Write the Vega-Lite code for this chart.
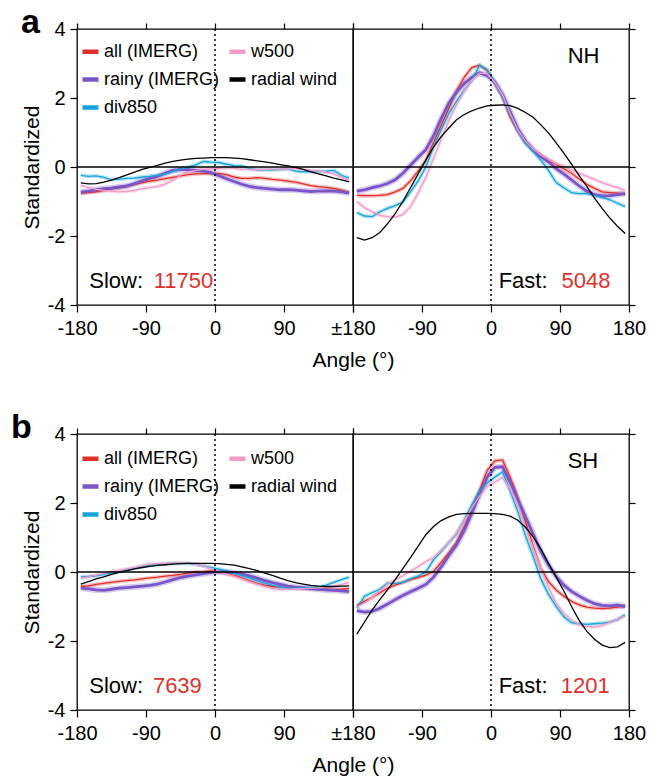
{
  "$schema": "https://vega.github.io/schema/vega-lite/v6.json",
  "padding": {"left": 10, "top": 5, "right": 5, "bottom": 5},
  "background": "white",
  "config": {
    "font": "Liberation Sans",
    "view": {"stroke": "black", "strokeWidth": 1.3},
    "axis": {
      "labelFont": "Liberation Sans", "labelFontSize": 20, "labelColor": "black",
      "titleFont": "Liberation Sans", "titleFontSize": 21, "titleFontWeight": "normal", "titleColor": "black",
      "tickColor": "black", "tickSize": 7, "tickWidth": 1.2, "domain": false, "grid": false,
      "labelFlush": false, "labelOverlap": false, "labelBound": false
    }
  },
  "datasets": {
    "A_slow": [
      {"angle": -175, "all": -0.76, "rainy": -0.73, "div850": -0.24, "w500": -0.53, "radial": -0.46},
      {"angle": -165, "all": -0.74, "rainy": -0.70, "div850": -0.27, "w500": -0.60, "radial": -0.49},
      {"angle": -155, "all": -0.72, "rainy": -0.66, "div850": -0.26, "w500": -0.65, "radial": -0.48},
      {"angle": -145, "all": -0.68, "rainy": -0.63, "div850": -0.30, "w500": -0.68, "radial": -0.44},
      {"angle": -135, "all": -0.63, "rainy": -0.61, "div850": -0.37, "w500": -0.70, "radial": -0.38},
      {"angle": -125, "all": -0.60, "rainy": -0.58, "div850": -0.35, "w500": -0.72, "radial": -0.31},
      {"angle": -115, "all": -0.56, "rainy": -0.55, "div850": -0.33, "w500": -0.71, "radial": -0.23},
      {"angle": -105, "all": -0.50, "rainy": -0.48, "div850": -0.32, "w500": -0.68, "radial": -0.15},
      {"angle": -95, "all": -0.45, "rainy": -0.40, "div850": -0.29, "w500": -0.63, "radial": -0.07},
      {"angle": -85, "all": -0.41, "rainy": -0.33, "div850": -0.27, "w500": -0.60, "radial": -0.01},
      {"angle": -75, "all": -0.38, "rainy": -0.27, "div850": -0.24, "w500": -0.56, "radial": 0.05},
      {"angle": -65, "all": -0.34, "rainy": -0.18, "div850": -0.20, "w500": -0.50, "radial": 0.11},
      {"angle": -55, "all": -0.30, "rainy": -0.10, "div850": -0.13, "w500": -0.38, "radial": 0.16},
      {"angle": -45, "all": -0.26, "rainy": -0.07, "div850": -0.07, "w500": -0.24, "radial": 0.20},
      {"angle": -35, "all": -0.22, "rainy": -0.08, "div850": 0.00, "w500": -0.14, "radial": 0.23},
      {"angle": -25, "all": -0.20, "rainy": -0.10, "div850": 0.06, "w500": -0.10, "radial": 0.25},
      {"angle": -15, "all": -0.19, "rainy": -0.12, "div850": 0.16, "w500": -0.07, "radial": 0.26},
      {"angle": -5, "all": -0.19, "rainy": -0.16, "div850": 0.14, "w500": -0.05, "radial": 0.27},
      {"angle": 5, "all": -0.19, "rainy": -0.25, "div850": 0.13, "w500": -0.05, "radial": 0.27},
      {"angle": 15, "all": -0.22, "rainy": -0.34, "div850": 0.08, "w500": -0.02, "radial": 0.27},
      {"angle": 25, "all": -0.29, "rainy": -0.42, "div850": 0.04, "w500": -0.04, "radial": 0.26},
      {"angle": 35, "all": -0.33, "rainy": -0.50, "div850": 0.03, "w500": -0.06, "radial": 0.24},
      {"angle": 45, "all": -0.33, "rainy": -0.56, "div850": -0.05, "w500": -0.07, "radial": 0.21},
      {"angle": 55, "all": -0.31, "rainy": -0.60, "div850": -0.08, "w500": -0.08, "radial": 0.18},
      {"angle": 65, "all": -0.33, "rainy": -0.62, "div850": -0.08, "w500": -0.07, "radial": 0.15},
      {"angle": 75, "all": -0.36, "rainy": -0.64, "div850": -0.08, "w500": -0.06, "radial": 0.11},
      {"angle": 85, "all": -0.38, "rainy": -0.66, "div850": -0.07, "w500": -0.06, "radial": 0.07},
      {"angle": 95, "all": -0.41, "rainy": -0.66, "div850": -0.05, "w500": -0.05, "radial": 0.03},
      {"angle": 105, "all": -0.44, "rainy": -0.67, "div850": -0.12, "w500": -0.05, "radial": -0.01},
      {"angle": 115, "all": -0.49, "rainy": -0.69, "div850": -0.14, "w500": -0.07, "radial": -0.07},
      {"angle": 125, "all": -0.54, "rainy": -0.71, "div850": -0.13, "w500": -0.10, "radial": -0.14},
      {"angle": 135, "all": -0.57, "rainy": -0.70, "div850": -0.13, "w500": -0.12, "radial": -0.20},
      {"angle": 145, "all": -0.59, "rainy": -0.69, "div850": -0.12, "w500": -0.15, "radial": -0.26},
      {"angle": 155, "all": -0.62, "rainy": -0.70, "div850": -0.10, "w500": -0.20, "radial": -0.32},
      {"angle": 165, "all": -0.67, "rainy": -0.72, "div850": -0.24, "w500": -0.30, "radial": -0.37},
      {"angle": 175, "all": -0.74, "rainy": -0.76, "div850": -0.32, "w500": -0.40, "radial": -0.43}
    ],
    "A_fast": [
      {"angle": -175, "all": -0.82, "rainy": -0.70, "div850": -1.32, "w500": -1.00, "radial": -2.05},
      {"angle": -165, "all": -0.83, "rainy": -0.66, "div850": -1.42, "w500": -1.18, "radial": -2.12},
      {"angle": -155, "all": -0.83, "rainy": -0.60, "div850": -1.44, "w500": -1.30, "radial": -2.05},
      {"angle": -145, "all": -0.82, "rainy": -0.55, "div850": -1.30, "w500": -1.40, "radial": -1.90},
      {"angle": -135, "all": -0.80, "rainy": -0.48, "div850": -1.20, "w500": -1.44, "radial": -1.65},
      {"angle": -125, "all": -0.72, "rainy": -0.37, "div850": -1.12, "w500": -1.45, "radial": -1.35},
      {"angle": -115, "all": -0.62, "rainy": -0.18, "div850": -1.02, "w500": -1.38, "radial": -1.00},
      {"angle": -105, "all": -0.40, "rainy": 0.05, "div850": -0.72, "w500": -1.15, "radial": -0.60},
      {"angle": -95, "all": -0.12, "rainy": 0.28, "div850": -0.40, "w500": -0.75, "radial": -0.20},
      {"angle": -85, "all": 0.20, "rainy": 0.50, "div850": 0.00, "w500": -0.30, "radial": 0.20},
      {"angle": -75, "all": 0.70, "rainy": 0.90, "div850": 0.58, "w500": 0.25, "radial": 0.58},
      {"angle": -65, "all": 1.20, "rainy": 1.40, "div850": 1.08, "w500": 0.80, "radial": 0.88},
      {"angle": -55, "all": 1.70, "rainy": 1.85, "div850": 1.55, "w500": 1.35, "radial": 1.13},
      {"angle": -45, "all": 2.20, "rainy": 2.17, "div850": 1.90, "w500": 1.80, "radial": 1.37},
      {"angle": -35, "all": 2.60, "rainy": 2.42, "div850": 2.22, "w500": 2.20, "radial": 1.52},
      {"angle": -25, "all": 2.88, "rainy": 2.60, "div850": 2.50, "w500": 2.52, "radial": 1.63},
      {"angle": -15, "all": 2.95, "rainy": 2.73, "div850": 2.95, "w500": 2.72, "radial": 1.71},
      {"angle": -5, "all": 2.80, "rainy": 2.65, "div850": 2.82, "w500": 2.70, "radial": 1.77},
      {"angle": 5, "all": 2.45, "rainy": 2.45, "div850": 2.45, "w500": 2.45, "radial": 1.79},
      {"angle": 15, "all": 2.05, "rainy": 2.10, "div850": 2.05, "w500": 2.10, "radial": 1.80},
      {"angle": 25, "all": 1.45, "rainy": 1.60, "div850": 1.50, "w500": 1.55, "radial": 1.78},
      {"angle": 35, "all": 1.05, "rainy": 1.10, "div850": 1.05, "w500": 1.08, "radial": 1.70},
      {"angle": 45, "all": 0.70, "rainy": 0.75, "div850": 0.70, "w500": 0.75, "radial": 1.58},
      {"angle": 55, "all": 0.48, "rainy": 0.50, "div850": 0.45, "w500": 0.52, "radial": 1.44},
      {"angle": 65, "all": 0.35, "rainy": 0.30, "div850": 0.20, "w500": 0.35, "radial": 1.22},
      {"angle": 75, "all": 0.20, "rainy": 0.15, "div850": -0.10, "w500": 0.22, "radial": 0.99},
      {"angle": 85, "all": 0.08, "rainy": -0.05, "div850": -0.45, "w500": 0.10, "radial": 0.70},
      {"angle": 95, "all": -0.05, "rainy": -0.20, "div850": -0.60, "w500": 0.03, "radial": 0.40},
      {"angle": 105, "all": -0.18, "rainy": -0.37, "div850": -0.74, "w500": -0.08, "radial": 0.08},
      {"angle": 115, "all": -0.35, "rainy": -0.55, "div850": -0.77, "w500": -0.18, "radial": -0.25},
      {"angle": 125, "all": -0.50, "rainy": -0.70, "div850": -0.77, "w500": -0.27, "radial": -0.56},
      {"angle": 135, "all": -0.62, "rainy": -0.80, "div850": -0.82, "w500": -0.36, "radial": -0.90},
      {"angle": 145, "all": -0.72, "rainy": -0.84, "div850": -0.88, "w500": -0.45, "radial": -1.20},
      {"angle": 155, "all": -0.74, "rainy": -0.83, "div850": -0.95, "w500": -0.53, "radial": -1.48},
      {"angle": 165, "all": -0.76, "rainy": -0.80, "div850": -1.05, "w500": -0.60, "radial": -1.72},
      {"angle": 175, "all": -0.78, "rainy": -0.77, "div850": -1.15, "w500": -0.68, "radial": -1.93}
    ],
    "B_slow": [
      {"angle": -175, "all": -0.42, "rainy": -0.47, "div850": -0.14, "w500": -0.18, "radial": -0.35},
      {"angle": -165, "all": -0.40, "rainy": -0.49, "div850": -0.13, "w500": -0.14, "radial": -0.28},
      {"angle": -155, "all": -0.36, "rainy": -0.52, "div850": -0.11, "w500": -0.09, "radial": -0.20},
      {"angle": -145, "all": -0.33, "rainy": -0.53, "div850": -0.07, "w500": -0.04, "radial": -0.14},
      {"angle": -135, "all": -0.30, "rainy": -0.50, "div850": -0.03, "w500": 0.01, "radial": -0.07},
      {"angle": -125, "all": -0.27, "rainy": -0.47, "div850": 0.01, "w500": 0.05, "radial": -0.01},
      {"angle": -115, "all": -0.25, "rainy": -0.45, "div850": 0.06, "w500": 0.09, "radial": 0.04},
      {"angle": -105, "all": -0.23, "rainy": -0.43, "div850": 0.11, "w500": 0.13, "radial": 0.09},
      {"angle": -95, "all": -0.20, "rainy": -0.41, "div850": 0.16, "w500": 0.18, "radial": 0.13},
      {"angle": -85, "all": -0.17, "rainy": -0.39, "div850": 0.20, "w500": 0.23, "radial": 0.16},
      {"angle": -75, "all": -0.15, "rainy": -0.35, "div850": 0.22, "w500": 0.24, "radial": 0.19},
      {"angle": -65, "all": -0.12, "rainy": -0.29, "div850": 0.24, "w500": 0.25, "radial": 0.21},
      {"angle": -55, "all": -0.10, "rainy": -0.22, "div850": 0.25, "w500": 0.26, "radial": 0.23},
      {"angle": -45, "all": -0.07, "rainy": -0.16, "div850": 0.25, "w500": 0.26, "radial": 0.24},
      {"angle": -35, "all": -0.03, "rainy": -0.12, "div850": 0.25, "w500": 0.25, "radial": 0.25},
      {"angle": -25, "all": 0.00, "rainy": -0.08, "div850": 0.22, "w500": 0.23, "radial": 0.25},
      {"angle": -15, "all": 0.01, "rainy": -0.05, "div850": 0.18, "w500": 0.18, "radial": 0.25},
      {"angle": -5, "all": 0.03, "rainy": -0.02, "div850": 0.13, "w500": 0.10, "radial": 0.25},
      {"angle": 5, "all": 0.02, "rainy": 0.01, "div850": 0.08, "w500": 0.02, "radial": 0.24},
      {"angle": 15, "all": -0.05, "rainy": 0.00, "div850": 0.03, "w500": -0.06, "radial": 0.22},
      {"angle": 25, "all": -0.10, "rainy": -0.02, "div850": -0.04, "w500": -0.12, "radial": 0.20},
      {"angle": 35, "all": -0.17, "rainy": -0.06, "div850": -0.10, "w500": -0.20, "radial": 0.15},
      {"angle": 45, "all": -0.26, "rainy": -0.11, "div850": -0.17, "w500": -0.28, "radial": 0.10},
      {"angle": 55, "all": -0.33, "rainy": -0.18, "div850": -0.25, "w500": -0.35, "radial": 0.04},
      {"angle": 65, "all": -0.38, "rainy": -0.25, "div850": -0.32, "w500": -0.42, "radial": -0.03},
      {"angle": 75, "all": -0.42, "rainy": -0.31, "div850": -0.39, "w500": -0.48, "radial": -0.10},
      {"angle": 85, "all": -0.44, "rainy": -0.36, "div850": -0.44, "w500": -0.51, "radial": -0.18},
      {"angle": 95, "all": -0.45, "rainy": -0.41, "div850": -0.46, "w500": -0.50, "radial": -0.25},
      {"angle": 105, "all": -0.46, "rainy": -0.44, "div850": -0.47, "w500": -0.49, "radial": -0.31},
      {"angle": 115, "all": -0.47, "rainy": -0.46, "div850": -0.46, "w500": -0.48, "radial": -0.35},
      {"angle": 125, "all": -0.48, "rainy": -0.48, "div850": -0.45, "w500": -0.47, "radial": -0.39},
      {"angle": 135, "all": -0.49, "rainy": -0.50, "div850": -0.44, "w500": -0.46, "radial": -0.41},
      {"angle": 145, "all": -0.50, "rainy": -0.52, "div850": -0.38, "w500": -0.44, "radial": -0.42},
      {"angle": 155, "all": -0.51, "rainy": -0.53, "div850": -0.30, "w500": -0.41, "radial": -0.42},
      {"angle": 165, "all": -0.50, "rainy": -0.55, "div850": -0.22, "w500": -0.36, "radial": -0.41},
      {"angle": 175, "all": -0.48, "rainy": -0.57, "div850": -0.15, "w500": -0.30, "radial": -0.40}
    ],
    "B_fast": [
      {"angle": -175, "all": -0.97, "rainy": -1.12, "div850": -1.05, "w500": -1.02, "radial": -1.80},
      {"angle": -165, "all": -0.85, "rainy": -1.16, "div850": -0.70, "w500": -0.90, "radial": -1.45},
      {"angle": -155, "all": -0.74, "rainy": -1.14, "div850": -0.60, "w500": -0.74, "radial": -1.10},
      {"angle": -145, "all": -0.60, "rainy": -1.05, "div850": -0.50, "w500": -0.55, "radial": -0.80},
      {"angle": -135, "all": -0.47, "rainy": -0.93, "div850": -0.32, "w500": -0.35, "radial": -0.52},
      {"angle": -125, "all": -0.38, "rainy": -0.80, "div850": -0.33, "w500": -0.22, "radial": -0.22},
      {"angle": -115, "all": -0.30, "rainy": -0.68, "div850": -0.30, "w500": -0.11, "radial": 0.10},
      {"angle": -105, "all": -0.22, "rainy": -0.57, "div850": -0.20, "w500": 0.02, "radial": 0.42},
      {"angle": -95, "all": -0.16, "rainy": -0.47, "div850": -0.12, "w500": 0.16, "radial": 0.75},
      {"angle": -85, "all": -0.09, "rainy": -0.36, "div850": 0.00, "w500": 0.30, "radial": 1.08},
      {"angle": -75, "all": 0.02, "rainy": -0.15, "div850": 0.35, "w500": 0.42, "radial": 1.32},
      {"angle": -65, "all": 0.28, "rainy": 0.15, "div850": 0.60, "w500": 0.62, "radial": 1.49},
      {"angle": -55, "all": 0.55, "rainy": 0.48, "div850": 0.85, "w500": 0.85, "radial": 1.60},
      {"angle": -45, "all": 0.86, "rainy": 0.78, "div850": 1.10, "w500": 1.12, "radial": 1.67},
      {"angle": -35, "all": 1.30, "rainy": 1.20, "div850": 1.50, "w500": 1.48, "radial": 1.69},
      {"angle": -25, "all": 1.82, "rainy": 1.70, "div850": 1.95, "w500": 1.85, "radial": 1.70},
      {"angle": -15, "all": 2.35, "rainy": 2.25, "div850": 2.35, "w500": 2.20, "radial": 1.70},
      {"angle": -5, "all": 2.95, "rainy": 2.75, "div850": 2.58, "w500": 2.48, "radial": 1.70},
      {"angle": 5, "all": 3.22, "rainy": 3.03, "div850": 2.75, "w500": 2.60, "radial": 1.69},
      {"angle": 15, "all": 3.25, "rainy": 3.05, "div850": 2.90, "w500": 2.74, "radial": 1.67},
      {"angle": 25, "all": 2.75, "rainy": 2.60, "div850": 2.35, "w500": 2.40, "radial": 1.62},
      {"angle": 35, "all": 2.15, "rainy": 2.10, "div850": 1.75, "w500": 1.90, "radial": 1.50},
      {"angle": 45, "all": 1.45, "rainy": 1.60, "div850": 1.05, "w500": 1.30, "radial": 1.30},
      {"angle": 55, "all": 0.75, "rainy": 1.10, "div850": 0.45, "w500": 0.70, "radial": 1.02},
      {"angle": 65, "all": 0.10, "rainy": 0.60, "div850": -0.20, "w500": 0.10, "radial": 0.67},
      {"angle": 75, "all": -0.28, "rainy": 0.20, "div850": -0.65, "w500": -0.45, "radial": 0.25},
      {"angle": 85, "all": -0.52, "rainy": -0.13, "div850": -1.00, "w500": -0.90, "radial": -0.15},
      {"angle": 95, "all": -0.70, "rainy": -0.38, "div850": -1.30, "w500": -1.20, "radial": -0.55},
      {"angle": 105, "all": -0.85, "rainy": -0.56, "div850": -1.47, "w500": -1.40, "radial": -1.00},
      {"angle": 115, "all": -0.95, "rainy": -0.70, "div850": -1.50, "w500": -1.52, "radial": -1.40},
      {"angle": 125, "all": -1.02, "rainy": -0.82, "div850": -1.52, "w500": -1.58, "radial": -1.72},
      {"angle": 135, "all": -1.05, "rainy": -0.92, "div850": -1.50, "w500": -1.60, "radial": -1.95},
      {"angle": 145, "all": -1.06, "rainy": -0.97, "div850": -1.48, "w500": -1.55, "radial": -2.12},
      {"angle": 155, "all": -1.05, "rainy": -0.98, "div850": -1.45, "w500": -1.46, "radial": -2.19},
      {"angle": 165, "all": -1.02, "rainy": -0.96, "div850": -1.38, "w500": -1.37, "radial": -2.17},
      {"angle": 175, "all": -0.98, "rainy": -1.00, "div850": -1.24, "w500": -1.27, "radial": -2.04}
    ]
  },
  "columns": 2,
  "spacing": {"row": 129, "column": 0},
  "bounds": "flush",
  "resolve": {"legend": {"color": "independent"}, "scale": {"color": "independent"}},
  "concat": [
    {
      "width": 276, "height": 276,
      "resolve": {"axis": {"x": "independent", "y": "independent"}},
      "layer": [
        {
          "data": {"name": "A_slow"},
          "transform": [{"fold": ["all", "rainy", "div850", "w500", "radial"], "as": ["series", "value"]}, {"filter": "datum.series != 'radial'"}],
          "mark": {"type": "line", "opacity": 0.3},
          "encoding": {
            "x": {"field": "angle", "type": "quantitative", "scale": {"domain": [-180, 180], "nice": false, "zero": false},
                  "axis": {"orient": "bottom", "values": [-180, -90, 0, 90, 180], "labelExpr": "datum.value == 180 ? '±180' : '' + datum.value", "labelPadding": 6, "title": "Angle (°)", "titleX": 276, "titlePadding": 11}},
            "y": {"field": "value", "type": "quantitative", "scale": {"domain": [-4, 4], "nice": false, "zero": false},
                  "axis": {"orient": "left", "values": [-4, -2, 0, 2, 4], "labelExpr": "'' + datum.value", "labelPadding": 5, "title": "Standardized", "titlePadding": 5}},
            "color": {"field": "series", "type": "nominal",
                      "scale": {"domain": ["all", "rainy", "div850", "w500", "radial"], "range": ["#e0302c", "#7a55c8", "#14a5dc", "#f29bc8", "#000000"]},
                      "legend": {"orient": "none", "legendX": 3, "legendY": 12, "title": null, "columns": 2, "symbolType": "stroke", "symbolStrokeWidth": 4.5, "symbolSize": 256, "symbolOpacity": 1, "labelFontSize": 18, "labelFont": "Liberation Sans", "labelColor": "black", "rowPadding": 8, "columnPadding": 0, "labelOffset": 3, "padding": 0,
                                 "labelExpr": "datum.label == 'all' ? 'all (IMERG)' : datum.label == 'rainy' ? 'rainy (IMERG)' : datum.label == 'radial' ? 'radial wind' : datum.label"}},
            "strokeWidth": {"condition": {"test": "datum.series == 'rainy'", "value": 6}, "value": 4}
          }
        },
        {
          "data": {"name": "A_slow"},
          "transform": [{"fold": ["all", "rainy", "div850", "w500", "radial"], "as": ["series", "value"]}],
          "mark": {"type": "line"},
          "encoding": {
            "x": {"field": "angle", "type": "quantitative", "scale": {"domain": [-180, 180], "nice": false, "zero": false},
                  "axis": {"orient": "top", "values": [-180, -90, 0, 90, 180], "labels": false, "tickSize": 6, "title": null}},
            "y": {"field": "value", "type": "quantitative", "scale": {"domain": [-4, 4], "nice": false, "zero": false}, "axis": null},
            "color": {"field": "series", "type": "nominal",
                      "scale": {"domain": ["all", "rainy", "div850", "w500", "radial"], "range": ["#e0302c", "#7a55c8", "#14a5dc", "#f29bc8", "#000000"]},
                      "legend": {"orient": "none", "legendX": 3, "legendY": 12, "title": null, "columns": 2, "symbolType": "stroke", "symbolStrokeWidth": 4.5, "symbolSize": 256, "symbolOpacity": 1, "labelFontSize": 18, "labelFont": "Liberation Sans", "labelColor": "black", "rowPadding": 8, "columnPadding": 0, "labelOffset": 3, "padding": 0,
                                 "labelExpr": "datum.label == 'all' ? 'all (IMERG)' : datum.label == 'rainy' ? 'rainy (IMERG)' : datum.label == 'radial' ? 'radial wind' : datum.label"}},
            "strokeWidth": {"condition": {"test": "datum.series == 'rainy'", "value": 2.8}, "value": 1.3}
          }
        },
        {"data": {"values": [{}]}, "mark": {"type": "rule", "color": "black", "strokeWidth": 1.3}, "encoding": {"y": {"datum": 0, "type": "quantitative", "axis": null}}},
        {"data": {"values": [{}]}, "mark": {"type": "rule", "color": "black", "strokeWidth": 1.5, "strokeDash": [2, 3]}, "encoding": {"x": {"datum": 0, "type": "quantitative", "axis": null}}},
        {"data": {"values": [{}]}, "mark": {"type": "text", "align": "left", "baseline": "alphabetic", "fontSize": 22, "color": "black", "text": "Slow:"},
         "encoding": {"x": {"datum": -164, "type": "quantitative", "axis": null}, "y": {"datum": -3.5, "type": "quantitative", "axis": null}}},
        {"data": {"values": [{}]}, "mark": {"type": "text", "align": "left", "baseline": "alphabetic", "fontSize": 22, "color": "#e0302c", "text": "11750"},
         "encoding": {"x": {"datum": -80, "type": "quantitative", "axis": null}, "y": {"datum": -3.5, "type": "quantitative", "axis": null}}},
        {"data": {"values": [{}]}, "mark": {"type": "text", "align": "left", "baseline": "alphabetic", "fontSize": 34, "fontWeight": "bold", "color": "black", "text": "a"},
         "encoding": {"x": {"datum": -253, "type": "quantitative", "axis": null}, "y": {"datum": 3.88, "type": "quantitative", "axis": null}}}
      ]
    },
    {
      "width": 276, "height": 276,
      "resolve": {"axis": {"x": "independent", "y": "independent"}},
      "layer": [
        {
          "data": {"name": "A_fast"},
          "transform": [{"fold": ["all", "rainy", "div850", "w500", "radial"], "as": ["series", "value"]}, {"filter": "datum.series != 'radial'"}],
          "mark": {"type": "line", "opacity": 0.3},
          "encoding": {
            "x": {"field": "angle", "type": "quantitative", "scale": {"domain": [-180, 180], "nice": false, "zero": false},
                  "axis": {"orient": "bottom", "values": [-180, -90, 0, 90, 180], "labelExpr": "datum.value == -180 ? '' : '' + datum.value", "labelPadding": 6, "title": null}},
            "y": {"field": "value", "type": "quantitative", "scale": {"domain": [-4, 4], "nice": false, "zero": false},
                  "axis": {"orient": "right", "values": [-4, -2, 0, 2, 4], "labels": false, "tickSize": 6, "title": null}},
            "color": {"field": "series", "type": "nominal",
                      "scale": {"domain": ["all", "rainy", "div850", "w500", "radial"], "range": ["#e0302c", "#7a55c8", "#14a5dc", "#f29bc8", "#000000"]}, "legend": null},
            "strokeWidth": {"condition": {"test": "datum.series == 'rainy'", "value": 6}, "value": 4}
          }
        },
        {
          "data": {"name": "A_fast"},
          "transform": [{"fold": ["all", "rainy", "div850", "w500", "radial"], "as": ["series", "value"]}],
          "mark": {"type": "line"},
          "encoding": {
            "x": {"field": "angle", "type": "quantitative", "scale": {"domain": [-180, 180], "nice": false, "zero": false},
                  "axis": {"orient": "top", "values": [-180, -90, 0, 90, 180], "labels": false, "tickSize": 6, "title": null}},
            "y": {"field": "value", "type": "quantitative", "scale": {"domain": [-4, 4], "nice": false, "zero": false}, "axis": null},
            "color": {"field": "series", "type": "nominal",
                      "scale": {"domain": ["all", "rainy", "div850", "w500", "radial"], "range": ["#e0302c", "#7a55c8", "#14a5dc", "#f29bc8", "#000000"]}, "legend": null},
            "strokeWidth": {"condition": {"test": "datum.series == 'rainy'", "value": 2.8}, "value": 1.3}
          }
        },
        {"data": {"values": [{}]}, "mark": {"type": "rule", "color": "black", "strokeWidth": 1.3}, "encoding": {"y": {"datum": 0, "type": "quantitative", "axis": null}}},
        {"data": {"values": [{}]}, "mark": {"type": "rule", "color": "black", "strokeWidth": 1.5, "strokeDash": [2, 3]}, "encoding": {"x": {"datum": 0, "type": "quantitative", "axis": null}}},
        {"data": {"values": [{}]}, "mark": {"type": "text", "align": "left", "baseline": "alphabetic", "fontSize": 22, "color": "black", "text": "Fast:"},
         "encoding": {"x": {"datum": 10, "type": "quantitative", "axis": null}, "y": {"datum": -3.5, "type": "quantitative", "axis": null}}},
        {"data": {"values": [{}]}, "mark": {"type": "text", "align": "left", "baseline": "alphabetic", "fontSize": 22, "color": "#e0302c", "text": "5048"},
         "encoding": {"x": {"datum": 92, "type": "quantitative", "axis": null}, "y": {"datum": -3.5, "type": "quantitative", "axis": null}}},
        {"data": {"values": [{}]}, "mark": {"type": "text", "align": "left", "baseline": "alphabetic", "fontSize": 22, "color": "black", "text": "NH"},
         "encoding": {"x": {"datum": 100, "type": "quantitative", "axis": null}, "y": {"datum": 3.02, "type": "quantitative", "axis": null}}}
      ]
    },
    {
      "width": 276, "height": 276,
      "resolve": {"axis": {"x": "independent", "y": "independent"}},
      "layer": [
        {
          "data": {"name": "B_slow"},
          "transform": [{"fold": ["all", "rainy", "div850", "w500", "radial"], "as": ["series", "value"]}, {"filter": "datum.series != 'radial'"}],
          "mark": {"type": "line", "opacity": 0.3},
          "encoding": {
            "x": {"field": "angle", "type": "quantitative", "scale": {"domain": [-180, 180], "nice": false, "zero": false},
                  "axis": {"orient": "bottom", "values": [-180, -90, 0, 90, 180], "labelExpr": "datum.value == 180 ? '±180' : '' + datum.value", "labelPadding": 6, "title": "Angle (°)", "titleX": 276, "titlePadding": 11}},
            "y": {"field": "value", "type": "quantitative", "scale": {"domain": [-4, 4], "nice": false, "zero": false},
                  "axis": {"orient": "left", "values": [-4, -2, 0, 2, 4], "labelExpr": "'' + datum.value", "labelPadding": 5, "title": "Standardized", "titlePadding": 5}},
            "color": {"field": "series", "type": "nominal",
                      "scale": {"domain": ["all", "rainy", "div850", "w500", "radial"], "range": ["#e0302c", "#7a55c8", "#14a5dc", "#f29bc8", "#000000"]},
                      "legend": {"orient": "none", "legendX": 3, "legendY": 14, "title": null, "columns": 2, "symbolType": "stroke", "symbolStrokeWidth": 4.5, "symbolSize": 256, "symbolOpacity": 1, "labelFontSize": 18, "labelFont": "Liberation Sans", "labelColor": "black", "rowPadding": 8, "columnPadding": 0, "labelOffset": 3, "padding": 0,
                                 "labelExpr": "datum.label == 'all' ? 'all (IMERG)' : datum.label == 'rainy' ? 'rainy (IMERG)' : datum.label == 'radial' ? 'radial wind' : datum.label"}},
            "strokeWidth": {"condition": {"test": "datum.series == 'rainy'", "value": 6}, "value": 4}
          }
        },
        {
          "data": {"name": "B_slow"},
          "transform": [{"fold": ["all", "rainy", "div850", "w500", "radial"], "as": ["series", "value"]}],
          "mark": {"type": "line"},
          "encoding": {
            "x": {"field": "angle", "type": "quantitative", "scale": {"domain": [-180, 180], "nice": false, "zero": false},
                  "axis": {"orient": "top", "values": [-180, -90, 0, 90, 180], "labels": false, "tickSize": 6, "title": null}},
            "y": {"field": "value", "type": "quantitative", "scale": {"domain": [-4, 4], "nice": false, "zero": false}, "axis": null},
            "color": {"field": "series", "type": "nominal",
                      "scale": {"domain": ["all", "rainy", "div850", "w500", "radial"], "range": ["#e0302c", "#7a55c8", "#14a5dc", "#f29bc8", "#000000"]},
                      "legend": {"orient": "none", "legendX": 3, "legendY": 14, "title": null, "columns": 2, "symbolType": "stroke", "symbolStrokeWidth": 4.5, "symbolSize": 256, "symbolOpacity": 1, "labelFontSize": 18, "labelFont": "Liberation Sans", "labelColor": "black", "rowPadding": 8, "columnPadding": 0, "labelOffset": 3, "padding": 0,
                                 "labelExpr": "datum.label == 'all' ? 'all (IMERG)' : datum.label == 'rainy' ? 'rainy (IMERG)' : datum.label == 'radial' ? 'radial wind' : datum.label"}},
            "strokeWidth": {"condition": {"test": "datum.series == 'rainy'", "value": 2.8}, "value": 1.3}
          }
        },
        {"data": {"values": [{}]}, "mark": {"type": "rule", "color": "black", "strokeWidth": 1.3}, "encoding": {"y": {"datum": 0, "type": "quantitative", "axis": null}}},
        {"data": {"values": [{}]}, "mark": {"type": "rule", "color": "black", "strokeWidth": 1.5, "strokeDash": [2, 3]}, "encoding": {"x": {"datum": 0, "type": "quantitative", "axis": null}}},
        {"data": {"values": [{}]}, "mark": {"type": "text", "align": "left", "baseline": "alphabetic", "fontSize": 22, "color": "black", "text": "Slow:"},
         "encoding": {"x": {"datum": -164, "type": "quantitative", "axis": null}, "y": {"datum": -3.5, "type": "quantitative", "axis": null}}},
        {"data": {"values": [{}]}, "mark": {"type": "text", "align": "left", "baseline": "alphabetic", "fontSize": 22, "color": "#e0302c", "text": "7639"},
         "encoding": {"x": {"datum": -81, "type": "quantitative", "axis": null}, "y": {"datum": -3.5, "type": "quantitative", "axis": null}}},
        {"data": {"values": [{}]}, "mark": {"type": "text", "align": "left", "baseline": "alphabetic", "fontSize": 34, "fontWeight": "bold", "color": "black", "text": "b"},
         "encoding": {"x": {"datum": -266, "type": "quantitative", "axis": null}, "y": {"datum": 3.88, "type": "quantitative", "axis": null}}}
      ]
    },
    {
      "width": 276, "height": 276,
      "resolve": {"axis": {"x": "independent", "y": "independent"}},
      "layer": [
        {
          "data": {"name": "B_fast"},
          "transform": [{"fold": ["all", "rainy", "div850", "w500", "radial"], "as": ["series", "value"]}, {"filter": "datum.series != 'radial'"}],
          "mark": {"type": "line", "opacity": 0.3},
          "encoding": {
            "x": {"field": "angle", "type": "quantitative", "scale": {"domain": [-180, 180], "nice": false, "zero": false},
                  "axis": {"orient": "bottom", "values": [-180, -90, 0, 90, 180], "labelExpr": "datum.value == -180 ? '' : '' + datum.value", "labelPadding": 6, "title": null}},
            "y": {"field": "value", "type": "quantitative", "scale": {"domain": [-4, 4], "nice": false, "zero": false},
                  "axis": {"orient": "right", "values": [-4, -2, 0, 2, 4], "labels": false, "tickSize": 6, "title": null}},
            "color": {"field": "series", "type": "nominal",
                      "scale": {"domain": ["all", "rainy", "div850", "w500", "radial"], "range": ["#e0302c", "#7a55c8", "#14a5dc", "#f29bc8", "#000000"]}, "legend": null},
            "strokeWidth": {"condition": {"test": "datum.series == 'rainy'", "value": 6}, "value": 4}
          }
        },
        {
          "data": {"name": "B_fast"},
          "transform": [{"fold": ["all", "rainy", "div850", "w500", "radial"], "as": ["series", "value"]}],
          "mark": {"type": "line"},
          "encoding": {
            "x": {"field": "angle", "type": "quantitative", "scale": {"domain": [-180, 180], "nice": false, "zero": false},
                  "axis": {"orient": "top", "values": [-180, -90, 0, 90, 180], "labels": false, "tickSize": 6, "title": null}},
            "y": {"field": "value", "type": "quantitative", "scale": {"domain": [-4, 4], "nice": false, "zero": false}, "axis": null},
            "color": {"field": "series", "type": "nominal",
                      "scale": {"domain": ["all", "rainy", "div850", "w500", "radial"], "range": ["#e0302c", "#7a55c8", "#14a5dc", "#f29bc8", "#000000"]}, "legend": null},
            "strokeWidth": {"condition": {"test": "datum.series == 'rainy'", "value": 2.8}, "value": 1.3}
          }
        },
        {"data": {"values": [{}]}, "mark": {"type": "rule", "color": "black", "strokeWidth": 1.3}, "encoding": {"y": {"datum": 0, "type": "quantitative", "axis": null}}},
        {"data": {"values": [{}]}, "mark": {"type": "rule", "color": "black", "strokeWidth": 1.5, "strokeDash": [2, 3]}, "encoding": {"x": {"datum": 0, "type": "quantitative", "axis": null}}},
        {"data": {"values": [{}]}, "mark": {"type": "text", "align": "left", "baseline": "alphabetic", "fontSize": 22, "color": "black", "text": "Fast:"},
         "encoding": {"x": {"datum": 10, "type": "quantitative", "axis": null}, "y": {"datum": -3.5, "type": "quantitative", "axis": null}}},
        {"data": {"values": [{}]}, "mark": {"type": "text", "align": "left", "baseline": "alphabetic", "fontSize": 22, "color": "#e0302c", "text": "1201"},
         "encoding": {"x": {"datum": 91, "type": "quantitative", "axis": null}, "y": {"datum": -3.5, "type": "quantitative", "axis": null}}},
        {"data": {"values": [{}]}, "mark": {"type": "text", "align": "left", "baseline": "alphabetic", "fontSize": 22, "color": "black", "text": "SH"},
         "encoding": {"x": {"datum": 100, "type": "quantitative", "axis": null}, "y": {"datum": 3.02, "type": "quantitative", "axis": null}}}
      ]
    }
  ]
}
